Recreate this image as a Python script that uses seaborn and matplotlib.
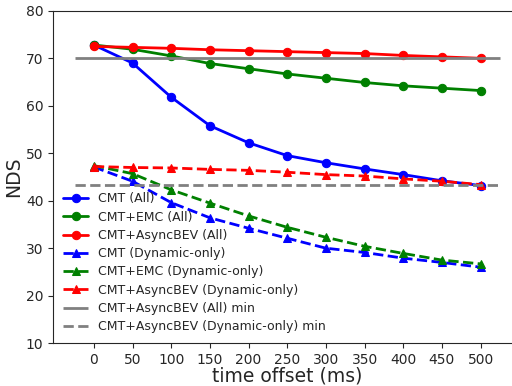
import numpy as np
import pandas as pd
import matplotlib
matplotlib.use("Agg")
import matplotlib.pyplot as plt
import seaborn as sns

# ============================
# Dados
# ============================
offsets = [0, 50, 100, 150, 200, 250, 300, 350, 400, 450, 500]

cmt_all = [72.8, 69.0, 61.8, 55.8, 52.2, 49.5, 48.0, 46.7, 45.5, 44.2, 43.2]
emc_all = [72.8, 71.9, 70.5, 68.9, 67.8, 66.7, 65.8, 64.9, 64.2, 63.7, 63.2]
async_all = [72.5, 72.3, 72.1, 71.8, 71.6, 71.4, 71.2, 71.0, 70.6, 70.3, 70.0]

cmt_dyn = [47.1, 44.1, 39.6, 36.4, 34.2, 32.1, 30.0, 29.1, 27.9, 27.0, 26.0]
emc_dyn = [47.4, 45.7, 42.3, 39.5, 36.8, 34.4, 32.3, 30.4, 28.9, 27.5, 26.7]
async_dyn = [47.2, 47.0, 46.9, 46.6, 46.4, 46.0, 45.5, 45.2, 44.6, 44.1, 43.4]

series = [
    ("CMT (All)", cmt_all, "blue", "o", "-"),
    ("CMT+EMC (All)", emc_all, "green", "o", "-"),
    ("CMT+AsyncBEV (All)", async_all, "red", "o", "-"),
    ("CMT (Dynamic-only)", cmt_dyn, "blue", "^", "--"),
    ("CMT+EMC (Dynamic-only)", emc_dyn, "green", "^", "--"),
    ("CMT+AsyncBEV (Dynamic-only)", async_dyn, "red", "^", "--"),
]

# ============================
# Gráfico
# ============================
sns.set_style("ticks")
plt.rcParams['font.family'] = ['DejaVu Sans']

fig = plt.figure(figsize=(5.12, 3.86), dpi=100)
ax = fig.add_axes([0.104, 0.111, 0.914, 0.861])

for nome, vals, cor, marc, ls in series:
    df = pd.DataFrame({"offset": offsets, "nds": vals})
    sns.lineplot(data=df, x="offset", y="nds", ax=ax, color=cor, marker=marc,
                 linestyle=ls, linewidth=2.0, markersize=6,
                 markeredgecolor=cor, label=nome)

ax.hlines(min(async_all), offsets[0] - 25, offsets[-1] + 25, colors="gray",
          linestyles="-", linewidth=2.0, label="CMT+AsyncBEV (All) min")
ax.hlines(min(async_dyn), offsets[0] - 25, offsets[-1] + 25, colors="gray",
          linestyles="--", linewidth=2.0, label="CMT+AsyncBEV (Dynamic-only) min")

ax.set_ylim(10, 80)
ax.set_yticks(range(10, 81, 10))
ax.set_xticks(offsets)
ax.tick_params(labelsize=10)
ax.set_xlabel("time offset (ms)", fontsize=13.5, labelpad=0)
ax.set_ylabel("NDS", fontsize=13.5, labelpad=2)
ax.legend(loc="lower left", frameon=False, fontsize=9, labelspacing=0.42,
          borderaxespad=0.4)

fig.savefig("out.png", dpi=100)
